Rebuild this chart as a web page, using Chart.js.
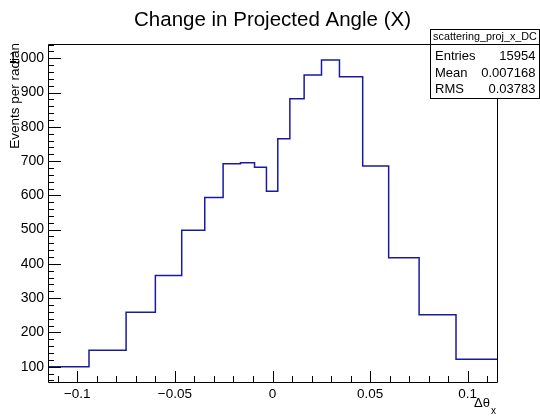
<!DOCTYPE html>
<html>
<head>
<meta charset="utf-8">
<script src="https://cdn.jsdelivr.net/npm/chart.js@4.4.1/dist/chart.umd.min.js"></script>
<style>
  html, body { margin: 0; padding: 0; background: #fff; }
  #wrap { width: 540px; height: 416px; position: relative; }
</style>
</head>
<body>
<div id="wrap"><canvas id="histChart" width="540" height="416"></canvas></div>
<script>
// variable-width bins, values already normalised per radian
const binEdges = [-0.115, -0.094, -0.075, -0.060, -0.0465, -0.0347, -0.0253, -0.0164, -0.0092, -0.0031,
                  0.0027, 0.0089, 0.0162, 0.0251, 0.0343, 0.0462, 0.0595, 0.0751, 0.094, 0.115];
const binValues = [100, 148, 259, 366, 498, 594, 692, 695, 682, 612,
                   765, 882, 951, 995, 946, 686, 418, 252, 122];
const xTickValues = [-0.1, -0.05, 0, 0.05, 0.1];
const yTickValues = [100, 200, 300, 400, 500, 600, 700, 800, 900, 1000];
const statsRows = [['Entries', '15954'], ['Mean', '0.007168'], ['RMS', '0.03783']];
const histName = 'scattering_proj_x_DC';

const FONT = '"Liberation Sans", Arial, Helvetica, sans-serif';

function stepPoints(edges, values) {
    const pts = values.map(function (v, i) { return { x: edges[i], y: v }; });
    pts.push({ x: edges[edges.length - 1], y: values[values.length - 1] });
    return pts;
}

function fmtTick(v) {
    return String(v).replace('-', '\u2212');
}

// ROOT style frame, inward ticks, titles and stats box
const rootFrame = {
    id: 'rootFrame',
    afterDraw: function (chart) {
        const ctx = chart.ctx;
        const a = chart.chartArea;
        const xs = chart.scales.x;
        const ys = chart.scales.y;
        ctx.save();
        ctx.strokeStyle = '#000';
        ctx.lineWidth = 1;
        ctx.beginPath();
        ctx.rect(Math.round(a.left) + 0.5, Math.round(a.top) + 0.5,
                 Math.round(a.right - a.left), Math.round(a.bottom - a.top));
        ctx.stroke();

        ctx.beginPath();
        // x ticks, every 0.01, major every 0.05
        for (let k = -11; k <= 11; k++) {
            const v = k / 100;
            const px = Math.round(xs.getPixelForValue(v)) + 0.5;
            const len = (k % 5 === 0) ? 11 : 6;
            ctx.moveTo(px, a.bottom);
            ctx.lineTo(px, a.bottom - len);
        }
        // y ticks, every 20, major every 100
        for (let v = 60; v <= 1040; v += 20) {
            const py = Math.round(ys.getPixelForValue(v)) + 0.5;
            const len = (v % 100 === 0) ? 13 : 6;
            ctx.moveTo(a.left, py);
            ctx.lineTo(a.left + len, py);
        }
        ctx.stroke();

        ctx.fillStyle = '#000';
        ctx.font = '20.5px ' + FONT;
        ctx.textAlign = 'center';
        ctx.textBaseline = 'alphabetic';
        ctx.fillText('Change in Projected Angle (X)', 272.5, 26);

        // y axis title
        ctx.save();
        ctx.translate(19, 43);
        ctx.rotate(-Math.PI / 2);
        ctx.font = '13.5px ' + FONT;
        ctx.textAlign = 'right';
        ctx.fillText('Events per radian', 0, 0);
        ctx.restore();

        // x axis title
        ctx.textBaseline = 'middle';
        ctx.font = '13px ' + FONT;
        ctx.textAlign = 'left';
        ctx.fillText('\u0394\u03b8', 474, 403);
        ctx.font = '10px ' + FONT;
        ctx.fillText('x', 491, 411);

        // stats box
        const bx = 430.5, by = 29.5, bw = 109, bh = 69;
        ctx.fillStyle = '#fff';
        ctx.fillRect(bx, by, bw, bh);
        ctx.strokeRect(bx, by, bw, bh);
        ctx.beginPath();
        ctx.moveTo(bx, 44.5);
        ctx.lineTo(bx + bw, 44.5);
        ctx.stroke();
        ctx.fillStyle = '#000';
        ctx.font = '10.8px ' + FONT;
        ctx.textAlign = 'center';
        ctx.fillText(histName, bx + bw / 2, 37.5);
        ctx.font = '13px ' + FONT;
        statsRows.forEach(function (row, i) {
            const y = 56.5 + i * 16.7;
            ctx.textAlign = 'left';
            ctx.fillText(row[0], 435, y);
            ctx.textAlign = 'right';
            ctx.fillText(row[1], 535.5, y);
        });
        ctx.restore();
    }
};

new Chart(document.getElementById('histChart').getContext('2d'), {
    type: 'line',
    data: {
        datasets: [{
            data: stepPoints(binEdges, binValues),
            stepped: 'before',
            borderColor: '#1a1aa0',
            borderWidth: 1.5,
            pointRadius: 0,
            fill: false,
        }],
    },
    options: {
        responsive: false,
        animation: false,
        events: [],
        layout: { padding: { top: 44, right: 43, left: 0, bottom: 0 } },
        plugins: { legend: { display: false }, tooltip: { enabled: false }, title: { display: false } },
        scales: {
            x: {
                type: 'linear',
                min: -0.115,
                max: 0.115,
                grid: { display: false, drawTicks: false },
                border: { display: false },
                afterBuildTicks: function (scale) {
                    scale.ticks = xTickValues.map(function (v) { return { value: v }; });
                },
                afterFit: function (scale) { scale.height = 34; },
                ticks: {
                    padding: 4,
                    color: '#000',
                    font: { family: FONT, size: 13.5 },
                    callback: function (v) { return fmtTick(v); },
                },
            },
            y: {
                min: 55.4,
                max: 1041.7,
                grid: { display: false, drawTicks: false },
                border: { display: false },
                afterBuildTicks: function (scale) {
                    scale.ticks = yTickValues.map(function (v) { return { value: v }; });
                },
                afterFit: function (scale) { scale.width = 48; },
                ticks: {
                    padding: 4,
                    color: '#000',
                    font: { family: FONT, size: 14 },
                },
            },
        },
    },
    plugins: [rootFrame],
});
</script>
</body>
</html>
